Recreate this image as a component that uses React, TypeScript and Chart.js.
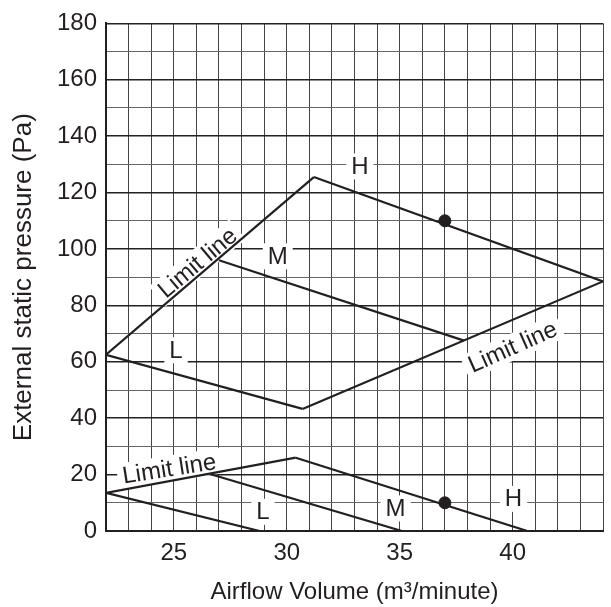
import React, { useEffect, useRef } from "react";
import { Chart, registerables } from "chart.js";

Chart.register(...registerables);

// Airflow volume (m³/minute) vs external static pressure (Pa)
const xMin = 22;
const xMax = 44;
const yMin = 0;
const yMax = 180;
const xLabelTicks = [25, 30, 35, 40];
const yLabelTicks = [0, 20, 40, 60, 80, 100, 120, 140, 160, 180];

// upper family
const limitUpperLeft = [{ x: 22, y: 62.5 }, { x: 31.2, y: 125.5 }];
const highUpper = [{ x: 31.2, y: 125.5 }, { x: 44, y: 88.5 }];
const midUpper = [{ x: 27, y: 96 }, { x: 37.85, y: 67.5 }];
const lowUpper = [{ x: 22, y: 62.5 }, { x: 30.7, y: 43.3 }];
const limitUpperRight = [{ x: 30.7, y: 43.3 }, { x: 44, y: 88.5 }];

// lower family
const limitLower = [{ x: 22, y: 13.5 }, { x: 30.4, y: 26 }];
const highLower = [{ x: 30.4, y: 26 }, { x: 40.65, y: 0 }];
const midLower = [{ x: 26.6, y: 20.2 }, { x: 35.1, y: 0 }];
const lowLower = [{ x: 22, y: 13.5 }, { x: 28.8, y: 0 }];

// rated points
const ratedPoints = [{ x: 37, y: 110 }, { x: 37, y: 10 }];

// curve annotations: text, x, y (data units), angle (deg)
const annotationTexts = ["H", "M", "L", "Limit line", "Limit line", "Limit line", "H", "M", "L"];
const annotationX = [33.24, 29.6, 25.1, 26.05, 40.0, 24.8, 40.04, 34.82, 28.95];
const annotationY = [129.3, 97.4, 64.1, 95.1, 65.3, 22.1, 11.4, 8.0, 6.8];
const annotationAngle = [0, 0, 0, -40, -24, -9, 0, 0, 0];

const FONT = '"Liberation Sans", Arial, Helvetica, sans-serif';
const INK = "#231f20";

const annotationPlugin = {
  id: "curveLabels",
  beforeDatasetsDraw(chart: any) {
    const ctx = chart.ctx;
    const xs = chart.scales.x;
    const ys = chart.scales.y;
    ctx.save();
    ctx.font = `24px ${FONT}`;
    ctx.textAlign = "center";
    ctx.textBaseline = "middle";
    annotationTexts.forEach((t, i) => {
      const px = xs.getPixelForValue(annotationX[i]);
      const py = ys.getPixelForValue(annotationY[i]);
      const w = ctx.measureText(t).width;
      ctx.save();
      ctx.translate(px, py);
      ctx.rotate((annotationAngle[i] * Math.PI) / 180);
      ctx.fillStyle = "#ffffff";
      ctx.fillRect(-w / 2 - 5, -13, w + 10, 26);
      ctx.fillStyle = INK;
      ctx.fillText(t, 0, 1);
      ctx.restore();
    });
    ctx.restore();
  },
};

function lineSet(data: { x: number; y: number }[]) {
  return {
    data,
    showLine: true,
    borderColor: INK,
    borderWidth: 2.2,
    pointRadius: 0,
    fill: false,
    tension: 0,
  };
}

export default function App() {
  const ref = useRef<HTMLCanvasElement | null>(null);

  useEffect(() => {
    if (!ref.current) return;
    const chart = new Chart(ref.current, {
      type: "scatter",
      data: {
        datasets: [
          lineSet(limitUpperLeft),
          lineSet(highUpper),
          lineSet(midUpper),
          lineSet(lowUpper),
          lineSet(limitUpperRight),
          lineSet(limitLower),
          lineSet(highLower),
          lineSet(midLower),
          lineSet(lowLower),
          {
            data: ratedPoints,
            showLine: false,
            pointRadius: 6,
            pointBackgroundColor: INK,
            pointBorderColor: INK,
          } as any,
        ],
      },
      options: {
        responsive: false,
        animation: false,
        devicePixelRatio: 1,
        layout: { padding: { top: 21, right: 8, left: 0, bottom: 0 } },
        plugins: {
          legend: { display: false },
          tooltip: { enabled: false },
        },
        scales: {
          x: {
            type: "linear",
            min: xMin,
            max: xMax,
            ticks: {
              stepSize: 1,
              autoSkip: false,
              maxRotation: 0,
              padding: 8,
              color: INK,
              font: { family: FONT, size: 24 },
              callback: (v: any) => (xLabelTicks.includes(Number(v)) ? String(v) : ""),
            },
            grid: {
              drawTicks: false,
              color: "#444",
              lineWidth: 1,
            },
            border: { color: INK, width: 2 },
            title: {
              display: true,
              text: "Airflow Volume (m³/minute)",
              color: INK,
              font: { family: FONT, size: 24 },
              padding: { top: 2, bottom: 0 },
            },
            afterFit: (s: any) => {
              s.height = 76;
            },
          },
          y: {
            type: "linear",
            min: yMin,
            max: yMax,
            ticks: {
              stepSize: 10,
              autoSkip: false,
              padding: 9,
              color: INK,
              font: { family: FONT, size: 24 },
              callback: (v: any) => (yLabelTicks.includes(Number(v)) ? String(v) : ""),
            },
            grid: {
              drawTicks: false,
              color: (c: any) => (c.tick && c.tick.value % 20 === 0 ? "#222" : "#666"),
              lineWidth: (c: any) => (c.tick && c.tick.value % 20 === 0 ? 1.5 : 1),
            },
            border: { color: INK, width: 2 },
            title: {
              display: true,
              text: "External static pressure (Pa)",
              color: INK,
              font: { family: FONT, size: 26 },
              padding: { top: 8, bottom: 0 },
            },
            afterFit: (s: any) => {
              s.width = 106;
            },
          },
        },
      } as any,
      plugins: [annotationPlugin],
    });
    return () => chart.destroy();
  }, []);

  return (
    <div style={{ position: "absolute", left: 0, top: 0, width: 611, height: 607, background: "#fff" }}>
      <canvas ref={ref} width={611} height={607} style={{ width: 611, height: 607 }} />
    </div>
  );
}
